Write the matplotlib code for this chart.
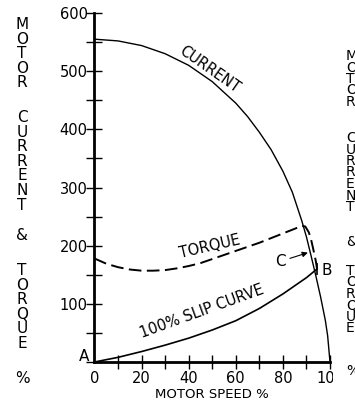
import matplotlib
matplotlib.use('Agg')
import matplotlib.pyplot as plt
from matplotlib.ticker import MultipleLocator

# curvas (velocidad %, valor %)
speed_current = [0, 10, 20, 30, 40, 50, 60, 65, 70, 75, 80, 84, 88, 90, 92, 94, 96, 98, 99, 100]
current = [555, 552, 544, 530, 510, 482, 445, 422, 395, 365, 328, 292, 243, 215, 182, 148, 112, 72, 45, 0]

speed_torque = [0, 5, 10, 15, 20, 25, 30, 35, 40, 45, 50, 55, 60, 65, 70, 75, 80, 85, 88, 89.5, 91, 92, 93, 94, 94.5]
torque = [178, 169, 163, 159, 157, 157, 158, 161, 165, 170, 177, 184, 191, 198, 205, 213, 221, 229, 234, 233, 223, 210, 192, 173, 160]

speed_slip = [0, 10, 20, 30, 40, 50, 60, 70, 80, 90, 94.5]
slip = [0, 8, 18, 29, 41, 55, 71, 92, 117, 145, 160]

x_labels = ['0', '20', '40', '60', '80', '100']
y_labels = ['100', '200', '300', '400', '500', '600']
side_words = ['MOTOR', 'CURRENT', '&', 'TORQUE', '%']

W, H = 355, 411
fig = plt.figure(figsize=(W / 100, H / 100), dpi=100)
ax = fig.add_axes([94.5 / W, 49 / H, 235.5 / W, 349 / H])

ax.plot(speed_current, current, color='black', lw=1.0, clip_on=False)
ax.plot(speed_torque, torque, color='black', lw=1.4, linestyle=(0, (6.5, 2.8)), clip_on=False)
ax.plot(speed_slip, slip, color='black', lw=1.2, clip_on=False)
# marca corta en el punto B
ax.plot(speed_slip[-1:], slip[-1:], marker='|', markersize=9, color='black', mew=1.2, clip_on=False)

ax.set_xlim(0, 100)
ax.set_ylim(0, 600)
for s in ['top', 'right']:
    ax.spines[s].set_visible(False)
for s in ['left', 'bottom']:
    ax.spines[s].set_linewidth(2)

ax.set_xticks([0, 20, 40, 60, 80, 100])
ax.set_xticklabels(x_labels)
ax.xaxis.set_minor_locator(MultipleLocator(10))
ax.set_yticks([100, 200, 300, 400, 500, 600])
ax.set_yticklabels(y_labels)
ax.yaxis.set_minor_locator(MultipleLocator(50))
ax.tick_params(axis='y', which='both', direction='inout', length=12, width=1, pad=-1, labelsize=10.5)
ax.tick_params(axis='x', which='both', direction='inout', length=9.5, width=1, pad=2, labelsize=10.5)
ax.xaxis.get_major_ticks()[0].tick1line.set_visible(False)
ax.set_xlabel('MOTOR SPEED %', fontsize=9.5, labelpad=1)

# etiquetas de las curvas
ax.text(49, 503, 'CURRENT', rotation=-35, fontsize=10.5, ha='center', va='center')
ax.text(49, 199, 'TORQUE', rotation=13, fontsize=10.5, ha='center', va='center')
ax.text(45.5, 87, '100% SLIP CURVE', rotation=20, fontsize=10.5, ha='center', va='center')
ax.text(-4.5, 10, 'A', fontsize=11, ha='center', va='center')
ax.text(98.5, 158, 'B', fontsize=11, ha='center', va='center')
ax.annotate('C', xy=(90.6, 188), xytext=(79, 173), fontsize=11, ha='center', va='center',
            arrowprops=dict(arrowstyle='-|>', color='black', lw=0.8, mutation_scale=8,
                            shrinkA=1, shrinkB=0))

# tapa el borde derecho (el "100" queda cortado como en el original)
cover = fig.add_axes([333 / W, 0, 22 / W, 1])
cover.set_xticks([])
cover.set_yticks([])
for s in cover.spines.values():
    s.set_visible(False)


def stack_letters(x, starts, pitch, ha, size):
    for word, y0 in zip(side_words, starts):
        for i, ch in enumerate(word):
            y = y0 + i * pitch
            fig.text(x / W, 1 - y / H, ch, ha=ha, va='baseline', fontsize=size)


stack_letters(22, [29, 122, 240, 275, 383], 14.6, 'center', 11)
stack_letters(346, [60, 142, 246, 275, 375], 11.5, 'left', 10)

fig.savefig('out.png', dpi=100)
